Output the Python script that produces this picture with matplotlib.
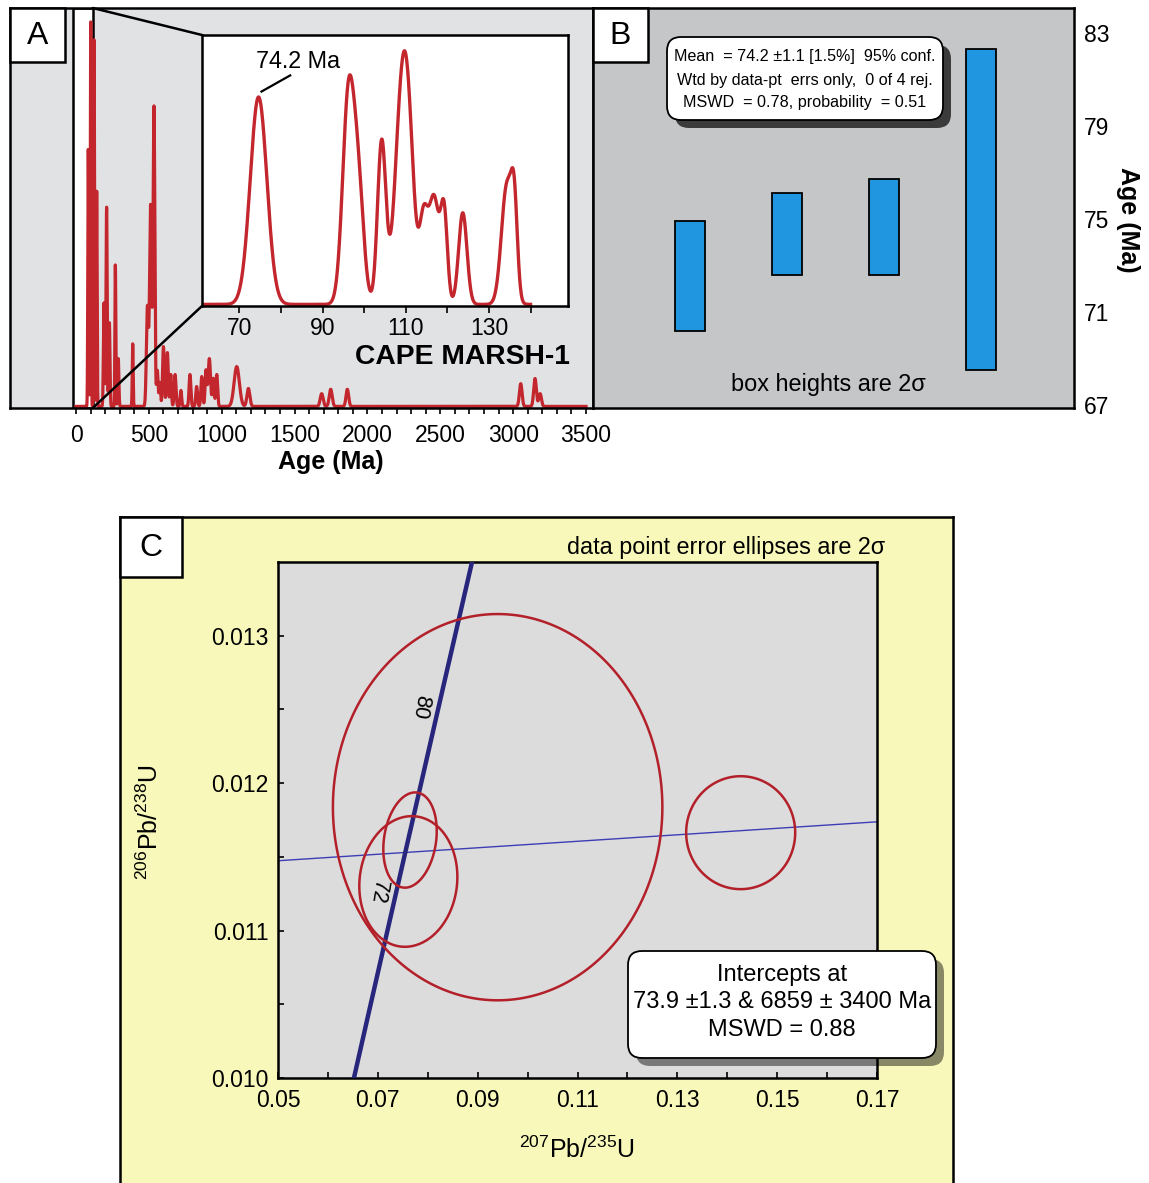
import numpy as np
import matplotlib
matplotlib.use("Agg")
import matplotlib.pyplot as plt
from matplotlib.patches import Rectangle, FancyBboxPatch, ConnectionPatch, Polygon
from matplotlib.transforms import Affine2D
from matplotlib.ticker import FixedLocator, MultipleLocator, FuncFormatter

plt.rcParams['font.family'] = ['Liberation Sans', 'DejaVu Sans']
plt.rcParams['mathtext.fontset'] = 'custom'
plt.rcParams['mathtext.rm'] = 'Liberation Sans'
plt.rcParams['mathtext.it'] = 'Liberation Sans:italic'
plt.rcParams['mathtext.bf'] = 'Liberation Sans:bold'

# ---- A: detrital zircon probability density (peak ages, heights, 1s widths)
main_ages = [84, 101, 124, 142, 192, 210, 229, 270, 290, 389, 490, 512, 535, 558,
             575, 600, 627, 650, 680, 720, 782, 828, 863, 892, 915, 942, 966, 1103, 1183,
             1686, 1748, 1862, 3052, 3150, 3185]
main_amp = [0.645, 0.965, 0.92, 0.54, 0.26, 0.50, 0.21, 0.355, 0.12, 0.157, 0.25, 0.505, 0.752, 0.09,
            0.06, 0.15, 0.135, 0.08, 0.08, 0.04, 0.08, 0.05, 0.075, 0.09, 0.12, 0.07, 0.08, 0.10, 0.045,
            0.032, 0.043, 0.043, 0.057, 0.07, 0.032]
main_sig = [3, 3, 3, 3, 4, 4, 4, 3, 4, 3, 7, 7, 6, 5,
            5, 6, 6, 5, 6, 5, 6, 6, 6, 6, 8, 6, 6, 18, 10,
            10, 10, 9, 9, 9, 9]
a_ticks = np.arange(0, 3501, 500)
a_minor = np.arange(0, 3501, 100)

# inset (young population)
inset_ages = [74.6, 96.2, 98.6, 104.2, 109.4, 111.0, 114.3, 116.8, 119.2, 123.7, 134.3, 136.1]
inset_amp = [0.77, 0.76, 0.40, 0.60, 0.87, 0.15, 0.30, 0.39, 0.33, 0.34, 0.44, 0.30]
inset_sig = [2.0, 1.4, 1.3, 1.0, 1.8, 1.2, 1.0, 1.2, 0.8, 1.0, 1.3, 0.75]

# ---- B: weighted mean, box = +-2s
b_mean = [72.55, 74.35, 74.65, 75.4]
b_err = [2.35, 1.75, 2.05, 6.9]
b_ticks = [67, 71, 75, 79, 83]

# ---- C: concordia, 2s error ellipses (207/235, 206/238, 2s, 2s, rho)
ell_x = [0.0940, 0.07645, 0.07611, 0.14269]
ell_y = [0.011837, 0.011614, 0.011333, 0.011664]
ell_ex = [0.0330, 0.00535, 0.00982, 0.01092]
ell_ey = [0.00131, 0.000323, 0.000443, 0.000383]
ell_rho = [0.0, 0.19, 0.07, 0.0]
lower_int, upper_int = 73.9, 6859.0
conc_labels = [72, 80]
L238, L235 = 1.55125e-10, 9.8485e-10

RED = '#c3262d'


def density(grid, ages, amps, sigs):
    out = np.zeros_like(grid)
    for a, h, s in zip(ages, amps, sigs):
        out += h * np.exp(-0.5 * ((grid - a) / s) ** 2)
    return out


W, H = 1149, 1183
fig = plt.figure(figsize=(W / 100, H / 100), dpi=100)
PX = Affine2D().scale(1.0 / W, -1.0 / H).translate(0, 1) + fig.transFigure


def box(x0, y0, x1, y1):
    return [x0 / W, 1 - y1 / H, (x1 - x0) / W, (y1 - y0) / H]


def panel_label(x0, y0, w, h, s):
    fig.add_artist(Rectangle((x0, y0), w, h, transform=PX, fc='white', ec='black', lw=1.8, zorder=10))
    fig.text(x0 + w / 2, y0 + h / 2 + 1, s, transform=PX, ha='center', va='center', fontsize=23, zorder=11)


def round_box(x0, y0, w, h, shadow_alpha, r=14, off=8):
    fig.add_artist(FancyBboxPatch((x0 + off, y0 + off), w, h, boxstyle=f'round,pad=0,rounding_size={r}',
                                  transform=PX, fc='black', ec='none', alpha=shadow_alpha, zorder=8))
    fig.add_artist(FancyBboxPatch((x0, y0), w, h, boxstyle=f'round,pad=0,rounding_size={r}',
                                  transform=PX, fc='white', ec='black', lw=1.3, zorder=9))


# ================= panel A
axA = fig.add_axes(box(10, 8, 593, 408))
axA.set_facecolor('#e1e2e4')
grid = np.arange(0, 3500.01, 0.5)
axA.axvspan(-20, 115, fc='white', ec='black', lw=1.8, zorder=0.5)
axA.plot(grid, density(grid, main_ages, main_amp, main_sig), color=RED, lw=2.3, zorder=2)
axA.set_xlim(-453, 3548)
axA.set_ylim(-0.004, 1.0)
axA.xaxis.set_major_locator(FixedLocator(a_ticks))
axA.xaxis.set_minor_locator(FixedLocator(a_minor))
axA.tick_params(axis='x', which='both', direction='out', length=4.5, width=1.2, labelsize=16.5, pad=7)
axA.set_yticks([])
for sp in axA.spines.values():
    sp.set_linewidth(1.8)
fig.text(331, 462, 'Age (Ma)', transform=PX, ha='center', va='center', fontsize=18, fontweight='bold')
axA.text(3390, 0.125, 'CAPE MARSH-1', ha='right', va='center', fontsize=20.3, fontweight='bold', zorder=3)

axI = fig.add_axes(box(202, 35, 568, 306))
axI.set_facecolor('white')
g2 = np.arange(61, 140.01, 0.05)
axI.plot(g2, density(g2, inset_ages, inset_amp, inset_sig), color=RED, lw=2.4)
axI.set_xlim(61, 149)
axI.set_ylim(-0.006, 1.0)
axI.xaxis.set_major_locator(MultipleLocator(10))
axI.xaxis.set_major_formatter(FuncFormatter(lambda v, p: f'{v:.0f}' if int(round(v)) % 20 == 10 else ''))
axI.tick_params(axis='x', direction='out', length=5, width=1.2, labelsize=16.5, pad=3)
axI.set_yticks([])
for sp in axI.spines.values():
    sp.set_linewidth(1.8)
axI.plot([75.3, 82.2], [0.79, 0.85], color='black', lw=1.6)
axI.text(84.0, 0.90, '74.2 Ma', ha='center', va='center', fontsize=16.8)

for ya, yb in [(1.0, 1.0), (-0.004, 0.0)]:
    fig.add_artist(ConnectionPatch(xyA=(115, ya), coordsA='data', axesA=axA,
                                   xyB=(0, yb), coordsB='axes fraction', axesB=axI,
                                   color='black', lw=1.8, zorder=3))
panel_label(10, 8, 55, 54, 'A')

# ================= panel B
axB = fig.add_axes(box(593, 8, 1074, 408))
axB.set_facecolor('#c5c6c8')
pos = np.arange(1, len(b_mean) + 1)
lo = np.array(b_mean) - np.array(b_err)
axB.bar(pos, 2 * np.array(b_err), bottom=lo, width=0.31, color='#2196e0', edgecolor='black', lw=1.3)
axB.set_xlim(0, 4.96)
axB.set_ylim(66.87, 84.07)
axB.set_xticks([])
axB.yaxis.tick_right()
axB.set_yticks(b_ticks)
axB.tick_params(axis='y', length=0, pad=7, labelsize=16.5)
for sp in axB.spines.values():
    sp.set_linewidth(1.8)
fig.text(1128, 220, 'Age (Ma)', transform=PX, rotation=270, ha='center', va='center',
         fontsize=18, fontweight='bold')
axB.text(0.4886, 0.0575, 'box heights are 2σ', transform=axB.transAxes, ha='center', va='center', fontsize=16.9)
round_box(667, 37, 276, 83, 0.7)
for yy, s in [(57, 'Mean  = 74.2 ±1.1 [1.5%]  95% conf.'),
              (80, 'Wtd by data-pt  errs only,  0 of 4 rej.'),
              (103, 'MSWD  = 0.78, probability  = 0.51')]:
    fig.text(805, yy, s, transform=PX, ha='center', va='center', fontsize=11.6, zorder=12)
panel_label(593, 8, 55, 54, 'B')

# ================= panel C
axCf = fig.add_axes(box(120, 517, 953, 1210))
axCf.set_facecolor('#f8f8ba')
axCf.set_xticks([])
axCf.set_yticks([])
for sp in axCf.spines.values():
    sp.set_linewidth(1.8)

axC = fig.add_axes(box(278, 562, 877, 1078))
axC.set_facecolor('#dcdcdc')
t = np.linspace(50, 100, 500) * 1e6
axC.plot(np.expm1(L235 * t), np.expm1(L238 * t), color='#28267c', lw=3.2, zorder=3)
x1, y1 = np.expm1(L235 * lower_int * 1e6), np.expm1(L238 * lower_int * 1e6)
x2, y2 = np.expm1(L235 * upper_int * 1e6), np.expm1(L238 * upper_int * 1e6)
slope = (y2 - y1) / (x2 - x1)
xd = np.array([0.05, 0.17])
axC.plot(xd, y1 + slope * (xd - x1), color='#3d3db5', lw=1.0, zorder=2)
tt = np.linspace(0, 2 * np.pi, 300, endpoint=False)
for cx, cy, ex, ey, r in zip(ell_x, ell_y, ell_ex, ell_ey, ell_rho):
    pts = np.column_stack([cx + ex * np.cos(tt),
                           cy + ey * (r * np.cos(tt) + np.sqrt(1 - r * r) * np.sin(tt))])
    axC.add_patch(Polygon(pts, closed=True, fill=False, ec='#b3202a', lw=1.8, zorder=4))
for a in conc_labels:
    axC.annotate(str(a), xy=(np.expm1(L235 * a * 1e6), np.expm1(L238 * a * 1e6)),
                 xytext=(-12.5, 3), textcoords='offset points', rotation=-100,
                 rotation_mode='anchor', ha='center', va='center', fontsize=15.5, zorder=5)
axC.set_xlim(0.05, 0.17)
axC.set_ylim(0.010, 0.0135)
axC.xaxis.set_major_locator(FixedLocator(np.arange(0.05, 0.171, 0.02)))
axC.xaxis.set_minor_locator(FixedLocator(np.arange(0.06, 0.161, 0.02)))
axC.yaxis.set_major_locator(FixedLocator(np.arange(0.010, 0.0131, 0.001)))
axC.yaxis.set_minor_locator(FixedLocator(np.arange(0.0105, 0.0131, 0.001)))
axC.xaxis.set_major_formatter(FuncFormatter(lambda v, p: f'{v:.2f}'))
axC.yaxis.set_major_formatter(FuncFormatter(lambda v, p: f'{v:.3f}'))
axC.tick_params(which='both', direction='in', length=4.5, width=1.2, labelsize=16.5)
axC.tick_params(axis='x', pad=8)
axC.tick_params(axis='y', pad=7)
for sp in axC.spines.values():
    sp.set_linewidth(1.8)
fig.text(577, 1150, r'$\mathregular{^{207}Pb/^{235}U}$', transform=PX, ha='center', va='center', fontsize=18)
fig.text(150, 822, r'$\mathregular{^{206}Pb/^{238}U}$', transform=PX, ha='center', va='center',
         fontsize=18, rotation=90)
fig.text(885, 548, 'data point error ellipses are 2σ', transform=PX, ha='right', va='center', fontsize=16.8)
round_box(628, 951, 308, 107, 0.45)
for yy, s in [(975, 'Intercepts at'), (1002, '73.9 ±1.3 & 6859 ± 3400 Ma'), (1030, 'MSWD = 0.88')]:
    fig.text(782, yy, s, transform=PX, ha='center', va='center', fontsize=17, zorder=12)
panel_label(120, 517, 62, 60, 'C')

fig.savefig('out.png', dpi=100)
